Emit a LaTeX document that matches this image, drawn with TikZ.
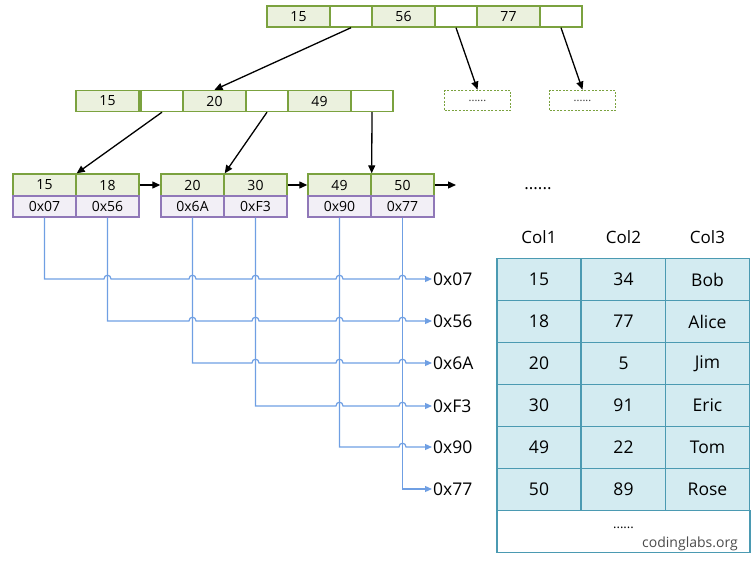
\documentclass[tikz,border=0pt]{standalone}
\usepackage{fontspec}
\setmainfont{Open Sans}
\usetikzlibrary{arrows.meta}
\definecolor{gline}{HTML}{7BA23F}
\definecolor{gfill}{HTML}{EBF1DE}
\definecolor{pline}{HTML}{9078B8}
\definecolor{pfill}{HTML}{F2EFF6}
\definecolor{bline}{HTML}{6F9FE3}
\definecolor{btip}{HTML}{2E6FD4}
\definecolor{tline}{HTML}{4B9AB2}
\definecolor{tfill}{HTML}{D3EBF1}
\tikzset{
  cellbase/.style={draw=gline, line width=1.4pt, minimum height=21pt, inner sep=0pt, font=\fontsize{14}{16}\selectfont},
  keycell/.style={cellbase, fill=gfill, minimum width=63pt},
  ptrcell/.style={cellbase, fill=white, minimum width=42pt},
  leafkey/.style={cellbase, fill=gfill, minimum width=63pt, minimum height=22pt},
  leafptr/.style={cellbase, draw=pline, fill=pfill, minimum width=63pt},
  dashbox/.style={draw=gline, line width=1.8pt, dash pattern=on 2pt off 1.6pt, minimum width=66pt, minimum height=20pt, inner sep=0pt, font=\fontsize{11}{12}\selectfont, text=black!80},
  treearrow/.style={-{Triangle[length=8pt,width=7pt]}, line width=1.3pt, black},
  bluearrow/.style={-{Triangle[length=7pt,width=6pt]}, line width=1.2pt, bline},
  addrlabel/.style={anchor=west, inner sep=1pt, font=\fontsize{17.5}{19}\selectfont},
  tcell/.style={draw=tline, line width=1.8pt, fill=tfill, minimum width=84pt, minimum height=42pt, inner sep=0pt, font=\fontsize{17.5}{19}\selectfont},
  thead/.style={font=\fontsize{17}{19}\selectfont, inner sep=0pt},
}
\begin{document}
\begin{tikzpicture}[x=1pt,y=-1pt]
\useasboundingbox (0,0) rectangle (756,562);
% root
\node[keycell] (r1) at (298.5,16.5) {15};
\node[ptrcell] (r2) at (351,16.5) {};
\node[keycell] (r3) at (403.5,16.5) {56};
\node[ptrcell] (r4) at (456,16.5) {};
\node[keycell] (r5) at (508.5,16.5) {77};
\node[ptrcell] (r6) at (561,16.5) {};
% level 2
\node[keycell] (m1) at (107.5,101) {15};
\node[ptrcell] (m2) at (162,101) {};
\node[keycell] (m3) at (214.5,101) {20};
\node[ptrcell] (m4) at (267,101) {};
\node[keycell] (m5) at (319.5,101) {49};
\node[ptrcell] (m6) at (372,101) {};
\node[dashbox] (d1) at (477.5,100.5) {......};
\node[dashbox] (d2) at (582.5,100.5) {......};
% leaves
\node[leafkey] (k1) at (44.5,185) {15};
\node[leafkey] (k2) at (107.5,185) {18};
\node[leafkey] (k3) at (192.5,185) {20};
\node[leafkey] (k4) at (255.5,185) {30};
\node[leafkey] (k5) at (339.5,185) {49};
\node[leafkey] (k6) at (402.5,185) {50};
\node[leafptr] (p1) at (44.5,206.5) {0x07};
\node[leafptr] (p2) at (107.5,206.5) {0x56};
\node[leafptr] (p3) at (192.5,206.5) {0x6A};
\node[leafptr] (p4) at (255.5,206.5) {0xF3};
\node[leafptr] (p5) at (339.5,206.5) {0x90};
\node[leafptr] (p6) at (402.5,206.5) {0x77};
\coordinate (nextleaf) at (456,185);
\node[thead] (dots) at (538,189) {......};
% tree arrows
\draw[treearrow] (r2.south) -- (m3.north);
\draw[treearrow] (r4.south) -- (d1.north);
\draw[treearrow] (r6.south) -- (d2.north);
\draw[treearrow] (m2.south) -- (k1.north east);
\draw[treearrow] (m4.south) -- (k3.north east);
\draw[treearrow] (m6.south) -- (k5.north east);
\draw[treearrow] (k2.east) -- (k3.west);
\draw[treearrow] (k4.east) -- (k5.west);
\draw[treearrow] (k6.east) -- (nextleaf);
% address labels
\node[addrlabel] (a1) at (432,279) {0x07};
\node[addrlabel] (a2) at (432,321) {0x56};
\node[addrlabel] (a3) at (432,363) {0x6A};
\node[addrlabel] (a4) at (432,406) {0xF3};
\node[addrlabel] (a5) at (432,447) {0x90};
\node[addrlabel] (a6) at (432,489) {0x77};
% blue pointer lines with hops
\draw[bluearrow] (p1.south) -- (44.5,279)
  \foreach \xx in {107.5,192.5,255.5,339.5,402.5} { -- (\xx-3.5,279) .. controls (\xx-3.5,274) and (\xx+3.5,274) .. (\xx+3.5,279) } -- (a1.west);
\draw[bluearrow] (p2.south) -- (107.5,321)
  \foreach \xx in {192.5,255.5,339.5,402.5} { -- (\xx-3.5,321) .. controls (\xx-3.5,316) and (\xx+3.5,316) .. (\xx+3.5,321) } -- (a2.west);
\draw[bluearrow] (p3.south) -- (192.5,363)
  \foreach \xx in {255.5,339.5,402.5} { -- (\xx-3.5,363) .. controls (\xx-3.5,358) and (\xx+3.5,358) .. (\xx+3.5,363) } -- (a3.west);
\draw[bluearrow] (p4.south) -- (255.5,406)
  \foreach \xx in {339.5,402.5} { -- (\xx-3.5,406) .. controls (\xx-3.5,401) and (\xx+3.5,401) .. (\xx+3.5,406) } -- (a4.west);
\draw[bluearrow] (p5.south) -- (339.5,447)
  \foreach \xx in {402.5} { -- (\xx-3.5,447) .. controls (\xx-3.5,442) and (\xx+3.5,442) .. (\xx+3.5,447) } -- (a5.west);
\draw[bluearrow] (p6.south) -- (402.5,489) -- (a6.west);
% table
\node[thead] (h1) at (539,237) {Col1};
\node[thead] (h2) at (623.5,237) {Col2};
\node[thead] (h3) at (707.5,237) {Col3};
\node[tcell] (t11) at (539,279.5) {15};
\node[tcell] (t12) at (623.5,279.5) {34};
\node[tcell] (t13) at (707.5,279.5) {Bob};
\node[tcell] (t21) at (539,321.5) {18};
\node[tcell] (t22) at (623.5,321.5) {77};
\node[tcell] (t23) at (707.5,321.5) {Alice};
\node[tcell] (t31) at (539,363.5) {20};
\node[tcell] (t32) at (623.5,363.5) {5};
\node[tcell] (t33) at (707.5,363.5) {Jim};
\node[tcell] (t41) at (539,405.5) {30};
\node[tcell] (t42) at (623.5,405.5) {91};
\node[tcell] (t43) at (707.5,405.5) {Eric};
\node[tcell] (t51) at (539,447.5) {49};
\node[tcell] (t52) at (623.5,447.5) {22};
\node[tcell] (t53) at (707.5,447.5) {Tom};
\node[tcell] (t61) at (539,489.5) {50};
\node[tcell] (t62) at (623.5,489.5) {89};
\node[tcell] (t63) at (707.5,489.5) {Rose};
\node[tcell, fill=white, minimum width=253pt] (t7) at (623.5,531.5) {};
\node[font=\fontsize{13}{14}\selectfont, inner sep=0pt] (tdots) at (623.5,528) {......};
\node[font=\fontsize{14}{16}\selectfont, text=black!70, inner sep=0pt] (credit) at (690,544) {codinglabs.org};
\end{tikzpicture}
\end{document}
